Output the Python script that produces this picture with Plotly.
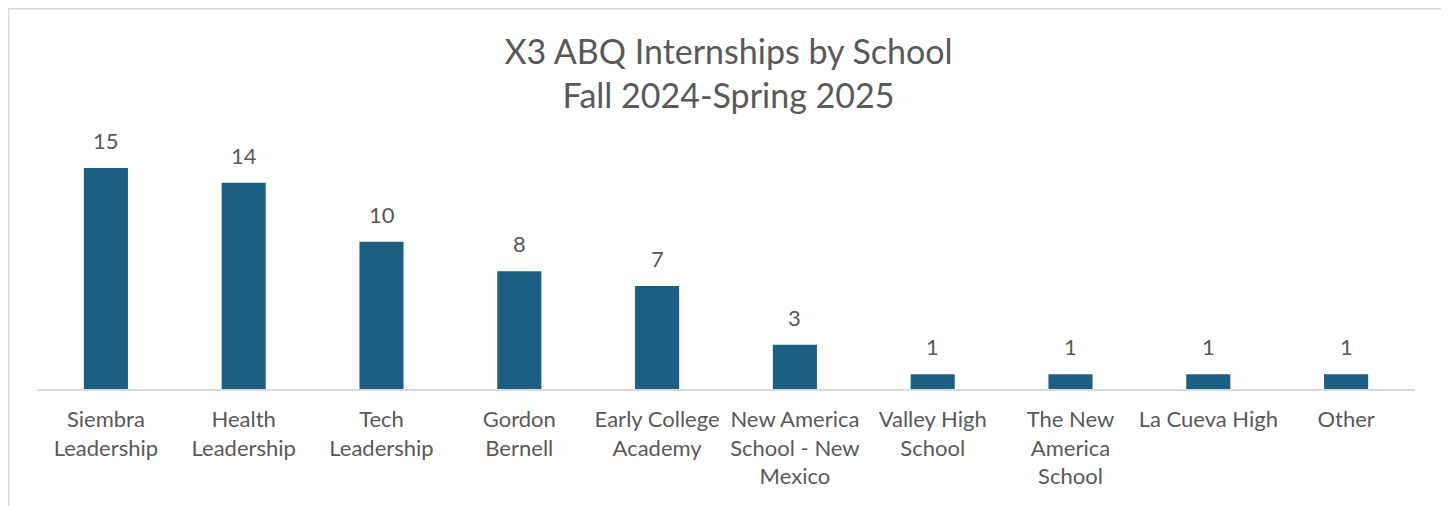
import plotly.graph_objects as go

schools = [
    "Siembra<br>Leadership",
    "Health<br>Leadership",
    "Tech<br>Leadership",
    "Gordon<br>Bernell",
    "Early College<br>Academy",
    "New America<br>School - New<br>Mexico",
    "Valley High<br>School",
    "The New<br>America<br>School",
    "La Cueva High",
    "Other",
]
internships = [15, 14, 10, 8, 7, 3, 1, 1, 1, 1]

title_text = "X3 ABQ Internships by School<br>Fall 2024-Spring 2025"

BAR = "#1b6083"
TXT = "#595959"
FONT = "Lato"

# page has an 8px body margin, so the figure is sized/offset to compensate
W, H = 1441, 498
L, R, T, B = 29, 34, 122, 117
pw, ph = W - L - R, H - T - B

fig = go.Figure(
    go.Bar(
        x=schools,
        y=internships,
        marker=dict(color=BAR, line=dict(width=0)),
        cliponaxis=False,
    )
)

for s, v in zip(schools, internships):
    fig.add_annotation(
        x=s, y=v, xref="x", yref="y",
        text=str(v), showarrow=False,
        yanchor="bottom", yshift=12,
        font=dict(family=FONT, size=22, color=TXT),
    )

fig.update_layout(
    width=W,
    height=H,
    margin=dict(l=L, r=R, t=T, b=B, autoexpand=False),
    paper_bgcolor="white",
    plot_bgcolor="white",
    bargap=0.68,
    showlegend=False,
    title=dict(
        text=title_text,
        x=0.5,
        xanchor="center",
        y=1 - 56 / H,
        yanchor="top",
        font=dict(family=FONT, size=34, color=TXT),
    ),
    font=dict(family=FONT, color=TXT),
    shapes=[
        dict(
            type="rect",
            xref="paper",
            yref="paper",
            x0=(0.5 - L) / pw,
            x1=(1435.5 - L) / pw,
            y0=-1.0,
            y1=(H - B - 0.5) / ph,
            line=dict(color="#d9d9d9", width=2),
            fillcolor="rgba(0,0,0,0)",
            layer="below",
        )
    ],
)

fig.update_xaxes(
    automargin=False,
    showline=True,
    linecolor="#d9d9d9",
    linewidth=1.5,
    showgrid=False,
    ticks="outside",
    ticklen=10,
    tickcolor="rgba(0,0,0,0)",
    tickfont=dict(family=FONT, size=22, color=TXT),
    tickangle=0,
)
fig.update_yaxes(
    visible=False,
    automargin=False,
    range=[0, (H - B - T) / 14.73],
    showgrid=False,
    zeroline=False,
)

fig.write_html("out.html")
